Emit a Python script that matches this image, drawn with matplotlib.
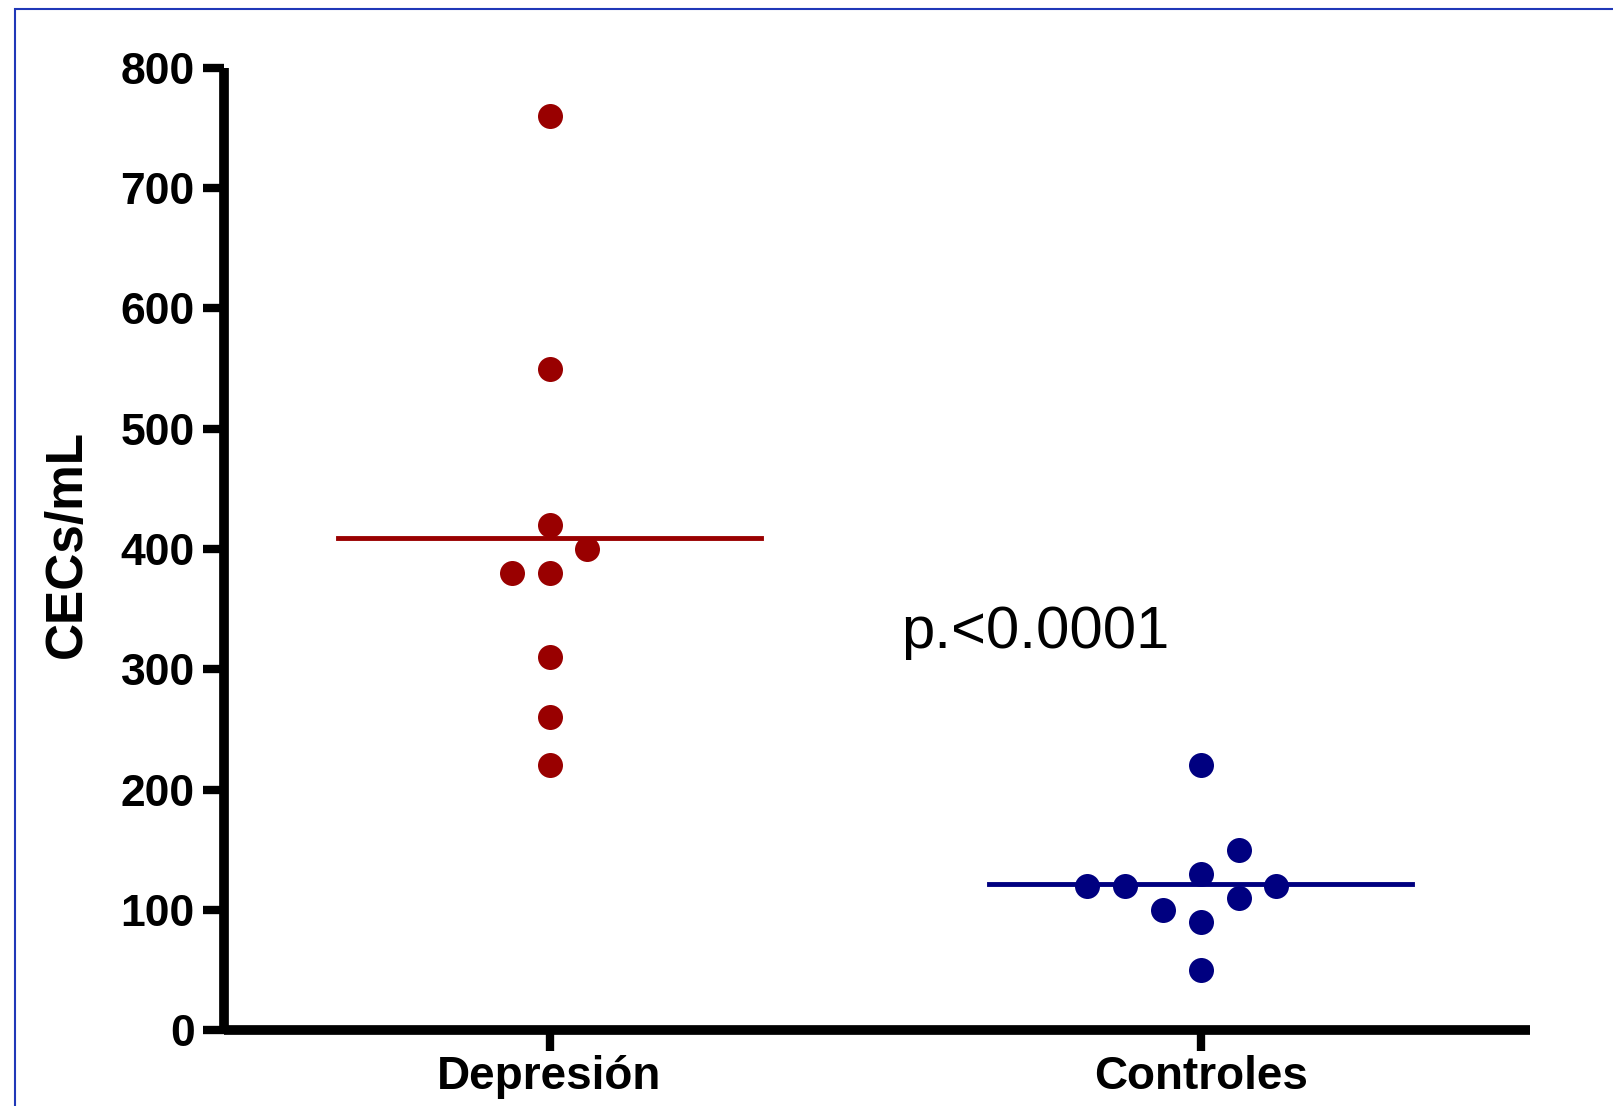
import matplotlib
matplotlib.use("Agg")
import matplotlib.pyplot as plt
import numpy as np
from matplotlib.patches import Rectangle

plt.rcParams['font.family'] = ['Liberation Sans', 'DejaVu Sans']

# datos (CECs/mL)
grupos = ['Depresión', 'Controles']
depresion = [760, 550, 420, 400, 380, 380, 310, 260, 220]
controles = [220, 150, 130, 120, 120, 120, 110, 100, 90, 50]
# desplazamiento horizontal de cada punto (en anchos de punto)
desp_depresion = [0, 0, 0, 1, -1, 0, 0, 0, 0]
desp_controles = [0, 1, 0, -3, -2, 2, 1, -1, 0, 0]
colores = ['#990000', '#000080']
y_ticks = [0, 100, 200, 300, 400, 500, 600, 700, 800]

fig = plt.figure(figsize=(16.13, 11.06), dpi=100)
ax = fig.add_axes([224 / 1613, 1 - 1030 / 1106, (1530 - 224) / 1613, (1030 - 68) / 1106])

paso = 0.0583
for i, (vals, desp) in enumerate([(depresion, desp_depresion), (controles, desp_controles)]):
    x = i + np.array(desp) * paso
    ax.plot(x, vals, 'o', color=colores[i], markersize=18, markeredgewidth=0,
            clip_on=False, zorder=3)
    media = np.mean(vals)
    ax.plot([i - 0.325, i + 0.325], [media, media], color=colores[i], lw=3.5, zorder=2)

ax.text(0.540, 318, 'p.<0.0001', fontsize=43, ha='left', va='baseline')

ax.set_xlim(-0.5, 1.506)
ax.set_ylim(0, 800)
ax.set_xticks([0, 1])
ax.set_xticklabels(grupos, fontsize=33, fontweight='bold')
ax.set_yticks(y_ticks)
ax.set_yticklabels([str(v) for v in y_ticks], fontsize=32, fontweight='bold')
ax.set_ylabel('CECs/mL', fontsize=37, fontweight='bold', labelpad=21)
ax.yaxis.label.set_y(0.505)

for s in ['top', 'right']:
    ax.spines[s].set_visible(False)
for s in ['left', 'bottom']:
    ax.spines[s].set_linewidth(7)
    ax.spines[s].set_capstyle('butt')
ax.tick_params(axis='both', length=15, width=6, color='black')
ax.tick_params(axis='y', pad=6)
ax.tick_params(axis='x', pad=3)

# marco azul alrededor de la figura
fig.patches.append(Rectangle((15 / 1613, -0.05), 1.1, 1.05 - 9 / 1106,
                             transform=fig.transFigure, fill=False,
                             edgecolor='#2038b8', lw=1.5, figure=fig))

fig.savefig('out.png', dpi=100)
